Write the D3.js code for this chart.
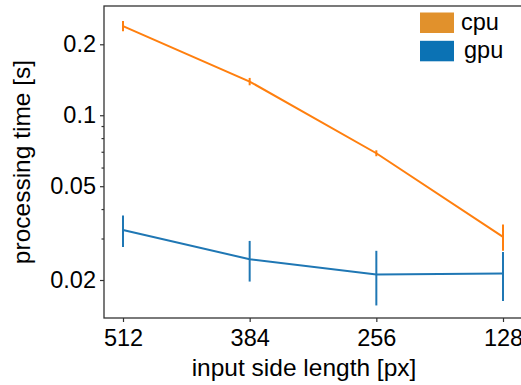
<!DOCTYPE html>
<html>
<head>
<meta charset="utf-8">
<script src="https://cdn.jsdelivr.net/npm/d3@7"></script>
<style>
  body { margin: 0; background: #fff; }
  svg { display: block; font-family: "Liberation Sans", Arial, sans-serif; }
</style>
</head>
<body>
<div id="chart"></div>
<script>
// data
const sizes = ['512', '384', '256', '128'];
const cpuMean = [0.239, 0.139, 0.069, 0.0305];
const cpuErr = [0.012, 0.005, 0.002, 0.0039];
const gpuMean = [0.0326, 0.0245, 0.0211, 0.0213];
const gpuErr = [0.005, 0.0048, 0.0055, 0.005];
const yTickLabels = [0.02, 0.05, 0.1, 0.2];
const yMinorTicks = [0.03, 0.04, 0.06, 0.07, 0.08, 0.09];
const seriesNames = ['cpu', 'gpu'];

const W = 521, H = 385;
const m = { left: 104, top: 6, bottom: 318, right: 522 };
const lineColor = { cpu: '#ff7f0e', gpu: '#1f77b4' };
const patchColor = { cpu: '#e1912c', gpu: '#0b72b4' };
const tickFont = 23.5, labelFont = 24.5;

const svg = d3.select('#chart').append('svg')
  .attr('width', W).attr('height', H);

// x: categorical positions with 5% margin like matplotlib
const x = d3.scaleLinear().domain([-0.15, sizes.length - 1 + 0.15]).range([m.left, m.right]);
const y = d3.scaleLog().domain([0.0138, 0.2907]).range([m.bottom, m.top]);

// axes
const xAxis = d3.axisBottom(x)
  .tickValues(d3.range(sizes.length))
  .tickFormat(i => sizes[i])
  .tickSize(4).tickPadding(7);
const gx = svg.append('g').attr('transform', `translate(0,${m.bottom})`).call(xAxis);

const yAxis = d3.axisLeft(y)
  .tickValues(yTickLabels)
  .tickFormat(d3.format('~g'))
  .tickSize(4).tickPadding(4);
const gy = svg.append('g').attr('transform', `translate(${m.left},0)`).call(yAxis);

const yMinor = d3.axisLeft(y).tickValues(yMinorTicks).tickFormat('').tickSize(2.5);
const gyMinor = svg.append('g').attr('transform', `translate(${m.left},0)`).call(yMinor);

[gx, gy, gyMinor].forEach(g => {
  g.select('.domain').remove();
  g.selectAll('.tick line').attr('stroke', '#333').attr('stroke-width', 1.2);
  g.selectAll('.tick text').attr('fill', '#000').style('font-size', tickFont + 'px');
});

// spines (right one falls just outside the window)
svg.append('rect')
  .attr('x', m.left).attr('y', m.top)
  .attr('width', m.right - m.left).attr('height', m.bottom - m.top)
  .attr('fill', 'none').attr('stroke', '#333').attr('stroke-width', 1.3);

// series
const series = [
  { name: 'cpu', mean: cpuMean, err: cpuErr },
  { name: 'gpu', mean: gpuMean, err: gpuErr }
];
const line = d3.line().x((d, i) => x(i)).y(d => y(d));

series.forEach(s => {
  const g = svg.append('g');
  g.append('path')
    .datum(s.mean)
    .attr('d', line)
    .attr('fill', 'none')
    .attr('stroke', lineColor[s.name])
    .attr('stroke-width', 2);
  g.selectAll('line.err').data(s.mean).enter().append('line')
    .attr('class', 'err')
    .attr('x1', (d, i) => x(i)).attr('x2', (d, i) => x(i))
    .attr('y1', (d, i) => y(d + s.err[i]))
    .attr('y2', (d, i) => y(d - s.err[i]))
    .attr('stroke', lineColor[s.name])
    .attr('stroke-width', 2);
});

// legend
const legend = svg.append('g').attr('transform', 'translate(420,12.5)');
seriesNames.forEach((n, i) => {
  legend.append('rect')
    .attr('x', 0).attr('y', i * 28.3)
    .attr('width', 34).attr('height', 20.5)
    .attr('fill', patchColor[n]);
  legend.append('text')
    .attr('x', i === 0 ? 41 : 44).attr('y', i * 28.3 + 17.5)
    .style('font-size', tickFont + 'px')
    .text(n);
});

// axis labels
svg.append('text')
  .attr('x', 304).attr('y', 376)
  .attr('text-anchor', 'middle')
  .style('font-size', labelFont + 'px')
  .text('input side length [px]');

svg.append('text')
  .attr('transform', `translate(30,${(m.top + m.bottom) / 2}) rotate(-90)`)
  .attr('text-anchor', 'middle')
  .style('font-size', labelFont + 'px')
  .text('processing time [s]');
</script>
</body>
</html>
